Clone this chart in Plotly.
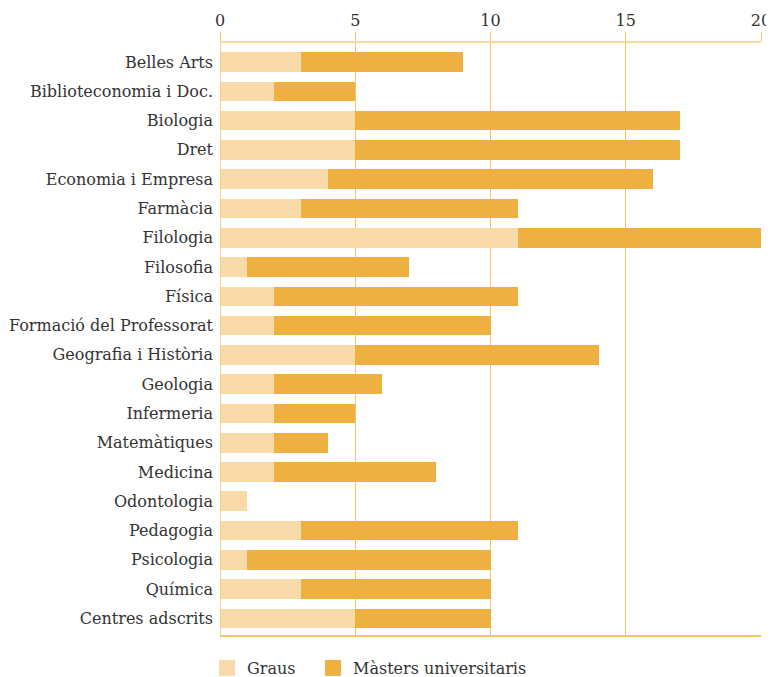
import plotly.graph_objects as go

categories = ["Belles Arts", "Biblioteconomia i Doc.", "Biologia", "Dret",
              "Economia i Empresa", "Farmàcia", "Filologia", "Filosofia",
              "Física", "Formació del Professorat", "Geografia i Història",
              "Geologia", "Infermeria", "Matemàtiques", "Medicina",
              "Odontologia", "Pedagogia", "Psicologia", "Química",
              "Centres adscrits"]
graus = [3, 2, 5, 5, 4, 3, 11, 1, 2, 2, 5, 2, 2, 2, 2, 1, 3, 1, 3, 5]
masters = [6, 3, 12, 12, 12, 8, 9, 6, 9, 8, 9, 4, 3, 2, 6, 0, 8, 9, 7, 5]
x_ticks = [0, 5, 10, 15, 20]
series_names = ["Graus", "Màsters universitaris"]

FONT = "DejaVu Serif"
TXT = "#333333"
C_GRAUS = "#f8dba8"
C_MAST = "#eeb040"
C_GRID = "#f4c36a"

fig = go.Figure()
fig.add_trace(go.Bar(y=categories, x=graus, orientation="h", name=series_names[0],
                     marker=dict(color=C_GRAUS, line=dict(width=0)), showlegend=False))
fig.add_trace(go.Bar(y=categories, x=masters, orientation="h", name=series_names[1],
                     marker=dict(color=C_MAST, line=dict(width=0)), showlegend=False))

# legend entries with square swatches
fig.add_trace(go.Scatter(x=[None], y=[None], mode="markers", name=series_names[0],
                         marker=dict(symbol="square", size=16, color=C_GRAUS),
                         legend="legend"))
fig.add_trace(go.Scatter(x=[None], y=[None], mode="markers", name=series_names[1],
                         marker=dict(symbol="square", size=16, color=C_MAST),
                         legend="legend2"))

leg_common = dict(orientation="h", yanchor="middle", y=-0.054, xanchor="left",
                  font=dict(family=FONT, size=16, color=TXT), itemwidth=30,
                  bgcolor="rgba(0,0,0,0)")

fig.update_layout(
    barmode="stack",
    bargap=0.33,
    width=766, height=669,
    margin=dict(l=212, r=13, t=35, b=41, autoexpand=False),
    plot_bgcolor="white", paper_bgcolor="white",
    font=dict(family=FONT, size=16, color=TXT),
    showlegend=True,
    legend=dict(x=-0.024, **leg_common),
    legend2=dict(x=0.172, **leg_common),
    xaxis=dict(side="top", range=[0, 20], tickvals=x_ticks,
               showgrid=True, gridcolor=C_GRID, gridwidth=1,
               zeroline=False, automargin=False,
               showline=True, linecolor="#f8d9a0", linewidth=2,
               ticks="outside", ticklen=9, tickcolor=C_GRID, tickwidth=1,
               ticklabelstandoff=0,
               tickfont=dict(family=FONT, size=16, color=TXT),
               fixedrange=True),
    yaxis=dict(categoryorder="array", categoryarray=categories,
               range=[19.6, -0.65], showgrid=False, zeroline=False,
               ticks="", automargin=False, ticklabelstandoff=6,
               tickfont=dict(family=FONT, size=16, color=TXT),
               fixedrange=True),
)

# bottom axis line and left zero line
fig.add_shape(type="line", xref="x domain", yref="y domain", x0=0, x1=1, y0=0, y1=0,
              line=dict(color=C_GRID, width=2), layer="above")
fig.add_shape(type="line", xref="x", yref="y domain", x0=0, x1=0, y0=0, y1=1,
              line=dict(color="#f6cf88", width=2), layer="above")

fig.write_html("out.html")
